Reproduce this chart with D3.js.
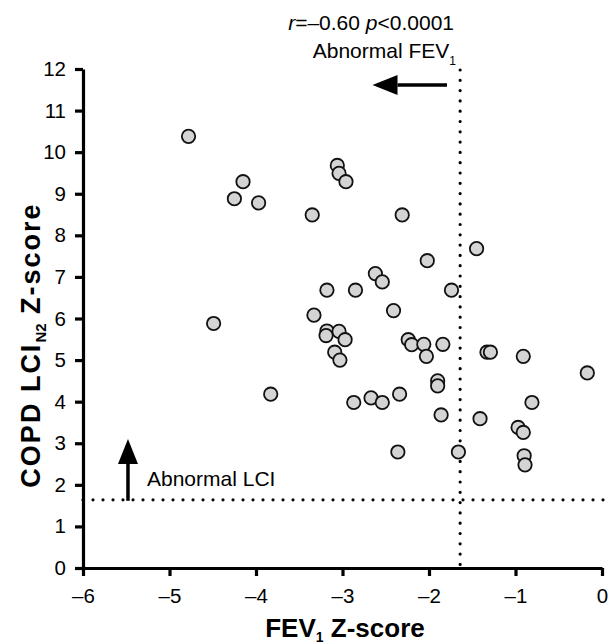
<!DOCTYPE html>
<html><head><meta charset="utf-8">
<script src="https://cdn.jsdelivr.net/npm/d3@7"></script>
<style>
html,body{margin:0;padding:0;background:#fff;}
svg{display:block;font-family:"Liberation Sans",Arial,sans-serif;}
</style></head>
<body>
<svg id="chart" width="609" height="644"></svg>
<script>
// FEV1 Z-score (x) and COPD LCI N2 Z-score (y)
const fev1 = [-4.78,-4.15,-4.25,-3.97,-3.35,-3.06,-3.04,-2.96,-3.18,-3.33,
  -4.49,-2.02,-2.62,-2.54,-2.85,-1.74,-2.41,-3.18,-3.04,-3.19,
  -2.97,-2.24,-2.20,-2.06,-1.84,-2.03,-3.09,-3.03,-1.33,-1.29,
  -1.90,-1.90,-3.83,-2.34,-2.87,-2.67,-2.54,-1.86,-1.41,-2.36,
  -1.66,-0.17,-0.91,-0.81,-0.97,-0.91,-0.90,-0.89,-2.31,-1.45];
const lci = [10.38,9.29,8.88,8.78,8.49,9.68,9.49,9.29,6.68,6.08,
  5.88,7.39,7.08,6.88,6.68,6.68,6.19,5.70,5.69,5.59,
  5.49,5.49,5.37,5.38,5.38,5.09,5.19,5.00,5.19,5.19,
  4.50,4.38,4.18,4.18,3.98,4.09,3.98,3.68,3.59,2.79,
  2.79,4.69,5.09,3.98,3.38,3.26,2.70,2.48,8.49,7.68];
const xTicks = [-6,-5,-4,-3,-2,-1,0];
const yTicks = [0,1,2,3,4,5,6,7,8,9,10,11,12];
const fevThreshold = -1.64;
const lciThreshold = 1.64;

const svg = d3.select("#chart");
const x = d3.scaleLinear().domain([-6,0]).range([83,602]);
const y = d3.scaleLinear().domain([0,12]).range([568,69]);
const fmt = d => d < 0 ? "\u2013" + Math.abs(d) : String(d);

// dotted threshold lines
svg.append("line").attr("x1",x(fevThreshold)).attr("x2",x(fevThreshold))
  .attr("y1",y(12)+1).attr("y2",y(0))
  .attr("stroke","#000").attr("stroke-width",3.2).attr("stroke-linecap","round")
  .attr("stroke-dasharray","0,10.3");
svg.append("line").attr("x1",x(-6)).attr("x2",607)
  .attr("y1",y(lciThreshold)).attr("y2",y(lciThreshold))
  .attr("stroke","#000").attr("stroke-width",3.2).attr("stroke-linecap","round")
  .attr("stroke-dasharray","0,10");

// axes
const xAxis = d3.axisBottom(x).tickValues(xTicks).tickFormat(fmt).tickSize(8).tickPadding(12).tickSizeOuter(0);
const yAxis = d3.axisLeft(y).tickValues(yTicks).tickFormat(fmt).tickSize(8).tickPadding(9).tickSizeOuter(0);
const gx = svg.append("g").attr("transform",`translate(0,${y(0)})`).call(xAxis);
const gy = svg.append("g").attr("transform",`translate(${x(-6)},0)`).call(yAxis);
[gx,gy].forEach(g=>{
  g.selectAll("path.domain").attr("stroke","#000").attr("stroke-width",3.2);
  g.selectAll(".tick line").attr("stroke","#000").attr("stroke-width",3.2);
  g.selectAll(".tick text").attr("fill","#000").style("font-size","20.5px").style("font-family","Liberation Sans, Arial, sans-serif");
});

// points
svg.append("g").selectAll("circle").data(fev1.map((v,i)=>[v,lci[i]])).join("circle")
  .attr("cx",d=>x(d[0])).attr("cy",d=>y(d[1])).attr("r",6.7)
  .attr("fill","#d4d4d4").attr("stroke","#111").attr("stroke-width",1.8);

// arrows
function arrow(x1,y1,x2,y2){
  const ang = Math.atan2(y2-y1,x2-x1), L=25, W=10;
  const bx = x2 - L*Math.cos(ang), by = y2 - L*Math.sin(ang);
  svg.append("line").attr("x1",x1).attr("y1",y1).attr("x2",bx).attr("y2",by)
    .attr("stroke","#000").attr("stroke-width",3.5);
  const px = -Math.sin(ang)*W, py = Math.cos(ang)*W;
  svg.append("path").attr("d",`M${x2},${y2}L${bx+px},${by+py}L${bx-px},${by-py}Z`).attr("fill","#000");
}
arrow(447,85,372.5,85);
arrow(x(-5.48),y(lciThreshold)+1,x(-5.48),439);

// annotations
const t1 = svg.append("text").attr("x",454).attr("y",30).attr("text-anchor","end").style("font-size","21px");
t1.append("tspan").style("font-style","italic").text("r");
t1.append("tspan").text("=\u20130.60 ");
t1.append("tspan").style("font-style","italic").text("p");
t1.append("tspan").text("<0.0001");
const t2 = svg.append("text").attr("x",456).attr("y",58).attr("text-anchor","end").style("font-size","21px");
t2.append("tspan").text("Abnormal FEV");
t2.append("tspan").attr("dy",7).style("font-size","12px").text("1");
svg.append("text").attr("x",147).attr("y",486).style("font-size","21px").text("Abnormal LCI");

// axis titles
const xt = svg.append("text").attr("x",345).attr("y",637).attr("text-anchor","middle")
  .style("font-size","26px").style("font-weight","bold");
xt.append("tspan").text("FEV");
xt.append("tspan").attr("dy",5).style("font-size","14px").text("1");
xt.append("tspan").attr("dy",-5).text(" Z-score");
const yt = svg.append("text").attr("transform","translate(40,345) rotate(-90)").attr("text-anchor","middle")
  .style("font-size","27px").style("font-weight","bold").style("letter-spacing","2px");
yt.append("tspan").text("COPD LCI");
yt.append("tspan").attr("dy",6).style("font-size","15px").style("letter-spacing","0px").text("N2");
yt.append("tspan").attr("dy",-6).text(" Z-score");
</script>
</body></html>
